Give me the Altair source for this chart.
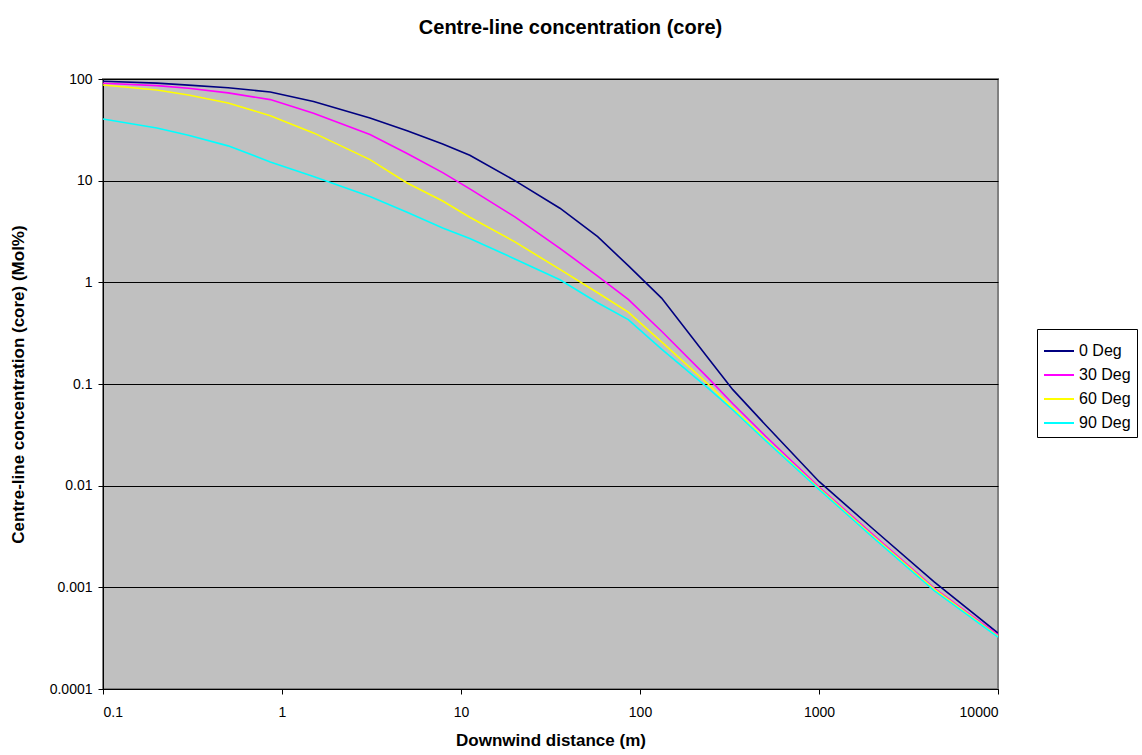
import altair as alt
import pandas as pd

# Downwind distance (m) sample points
x_dist = [0.1, 0.2, 0.3, 0.5, 0.86, 1.5, 3.1, 5, 7.9, 11.2, 20, 35.7, 58, 86,
          132, 240, 330, 500, 1000, 2000, 4400, 10000]

# Centre-line concentration (Mol%) per release angle
y_0deg = [95, 91, 87, 82, 74.5, 60, 41.4, 31, 23, 17.8, 10, 5.36, 2.81, 1.46,
          0.70, 0.18, 0.088, 0.040, 0.011, 0.00377, 0.00113, 0.000355]
y_30deg = [90.7, 86, 81, 73, 62.7, 46, 28.4, 18.5, 12, 8.3, 4.4, 2.16, 1.15, 0.68,
           0.33, 0.115, 0.064, 0.031, 0.0097, 0.0033, 0.00098, 0.00034]
y_60deg = [87.3, 78, 69.6, 58, 43.6, 29.5, 16.1, 9.5, 6.3, 4.37, 2.5, 1.34, 0.79, 0.51,
           0.26, 0.10, 0.058, 0.0288, 0.0094, 0.0032, 0.00096, 0.00033]
y_90deg = [40.4, 33, 28, 22, 15.3, 11, 7.0, 4.9, 3.43, 2.7, 1.7, 1.06, 0.63, 0.43,
           0.22, 0.091, 0.0556, 0.028, 0.0092, 0.0031, 0.00093, 0.000324]

series_names = ["0 Deg", "30 Deg", "60 Deg", "90 Deg"]
series_colors = ["#000080", "#FF00FF", "#FFFF00", "#00FFFF"]

x_ticks = [0.1, 1, 10, 100, 1000, 10000]
y_ticks = [0.0001, 0.001, 0.01, 0.1, 1, 10, 100]

rows = []
for name, ys in zip(series_names, [y_0deg, y_30deg, y_60deg, y_90deg]):
    for i, (xv, yv) in enumerate(zip(x_dist, ys)):
        rows.append({"series": name, "x": xv, "y": yv, "order": i})
df = pd.DataFrame(rows)

FONT = "Liberation Sans"

chart = alt.Chart(df).mark_line(strokeWidth=1.6, clip=True).encode(
    x=alt.X("x:Q",
            scale=alt.Scale(type="log", domain=[0.1, 10000], nice=False),
            axis=alt.Axis(values=x_ticks, format="~g", title="Downwind distance (m)",
                          grid=False, tickSize=5, labelPadding=11, titlePadding=13)),
    y=alt.Y("y:Q",
            scale=alt.Scale(type="log", domain=[0.0001, 100], nice=False),
            axis=alt.Axis(values=y_ticks, format="~g",
                          title="Centre-line concentration (core) (Mol%)",
                          grid=True, tickSize=5, labelPadding=6, titlePadding=22)),
    color=alt.Color("series:N",
                    scale=alt.Scale(domain=series_names, range=series_colors),
                    legend=alt.Legend(title=None, orient="none", legendX=934, legendY=250,
                                      strokeColor="black", fillColor="white",
                                      padding=6, symbolType="stroke", symbolSize=900,
                                      symbolStrokeWidth=2, rowPadding=0, labelOffset=4,
                                      labelFont=FONT, labelFontSize=16,
                                      labelColor="black", cornerRadius=0)),
    order=alt.Order("order:Q"),
).properties(
    width=895,
    height=610,
    title=alt.TitleParams("Centre-line concentration (core)", font=FONT, fontSize=20,
                          fontWeight="bold", color="black", anchor="middle",
                          dx=20, offset=34),
    autosize=alt.AutoSizeParams(type="none"),
    padding={"left": 103, "top": 79, "right": 144, "bottom": 66},
    background="white",
).configure_view(
    fill="#C0C0C0", stroke="#808080", strokeWidth=2,
).configure_axis(
    labelFont=FONT, labelFontSize=14, labelColor="black",
    titleFont=FONT, titleFontSize=17, titleFontWeight="bold", titleColor="black",
    domainColor="black", domainWidth=1, tickColor="black",
    gridColor="black", gridWidth=1, gridOpacity=1,
)

chart.save("out.html", embed_options={"renderer": "svg", "actions": False})
